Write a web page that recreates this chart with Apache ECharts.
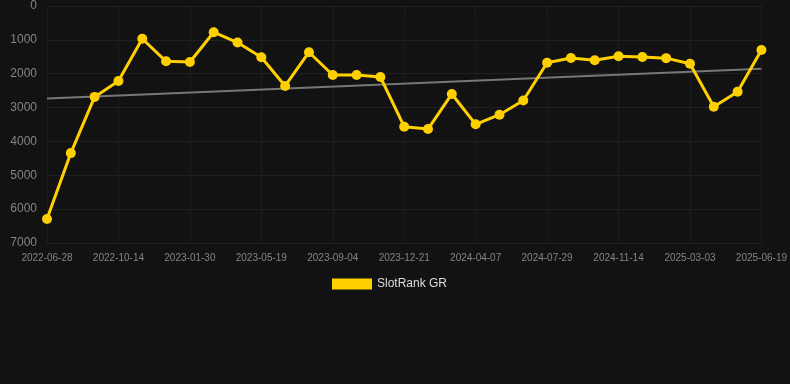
<!DOCTYPE html>
<html>
<head>
<meta charset="utf-8">
<script src="https://cdn.jsdelivr.net/npm/echarts@6/dist/echarts.min.js"></script>
<style>
html,body{margin:0;padding:0;background:#121212;}
#chart{width:790px;height:384px;}
</style>
</head>
<body>
<div id="chart"></div>
<script>
var categories = [
  "2022-06-28","2022-08-03","2022-09-08","2022-10-14","2022-11-19","2022-12-25",
  "2023-01-30","2023-03-07","2023-04-13","2023-05-19","2023-06-24","2023-07-30",
  "2023-09-04","2023-10-10","2023-11-15","2023-12-21","2024-01-26","2024-03-02",
  "2024-04-07","2024-05-13","2024-06-22","2024-07-29","2024-09-03","2024-10-09",
  "2024-11-14","2024-12-20","2025-01-25","2025-03-03","2025-04-08","2025-05-14",
  "2025-06-19"
];
var rankValues = [
  6293, 4345, 2685, 2215, 968, 1633, 1655, 775, 1080, 1512, 2362, 1365,
  2038, 2038, 2097, 3565, 3635, 2598, 3495, 3210, 2790, 1675, 1535, 1600,
  1482, 1505, 1540, 1705, 2975, 2530, 1298
];
var trendValues = [2730].concat(new Array(29).fill(null)).concat([1852]);
var yTicks = { min: 0, max: 7000, interval: 1000 };
var seriesName = "SlotRank GR";

var chart = echarts.init(document.getElementById('chart'));
chart.setOption({
  backgroundColor: '#121212',
  animation: false,
  grid: { left: 47, right: 28, top: 6, bottom: 141 },
  legend: {
    data: [{ name: seriesName, icon: 'rect' }],
    left: 327,
    top: 273,
    itemWidth: 40,
    itemHeight: 11,
    itemGap: 6,
    textStyle: { color: '#dddddd', fontSize: 12, fontFamily: 'Liberation Sans, Arial, sans-serif' }
  },
  xAxis: {
    type: 'category',
    data: categories,
    boundaryGap: false,
    axisLine: { show: false },
    axisTick: { show: true, interval: 2, length: 6, lineStyle: { color: '#1e1e1e' } },
    axisLabel: { interval: 2, color: '#848484', fontSize: 10, margin: 10, fontFamily: 'Liberation Sans, Arial, sans-serif' },
    splitLine: { show: true, interval: 2, lineStyle: { color: '#1c1c1c', width: 1 } }
  },
  yAxis: {
    type: 'value',
    inverse: true,
    min: yTicks.min,
    max: yTicks.max,
    interval: yTicks.interval,
    axisLine: { show: false },
    axisTick: { show: false },
    axisLabel: { color: '#848484', fontSize: 12, margin: 10, formatter: function (v) { return String(v); }, fontFamily: 'Liberation Sans, Arial, sans-serif' },
    splitLine: { lineStyle: { color: '#202020', width: 1 } }
  },
  series: [
    {
      name: seriesName,
      type: 'line',
      data: rankValues,
      symbol: 'circle',
      symbolSize: 10,
      itemStyle: { color: '#FFD000' },
      lineStyle: { color: '#FFD000', width: 3 },
      z: 3
    },
    {
      name: 'trend',
      type: 'line',
      data: trendValues,
      connectNulls: true,
      symbol: 'none',
      lineStyle: { color: '#777777', width: 2 },
      itemStyle: { color: '#777777' },
      z: 2
    }
  ]
});
</script>
</body>
</html>
